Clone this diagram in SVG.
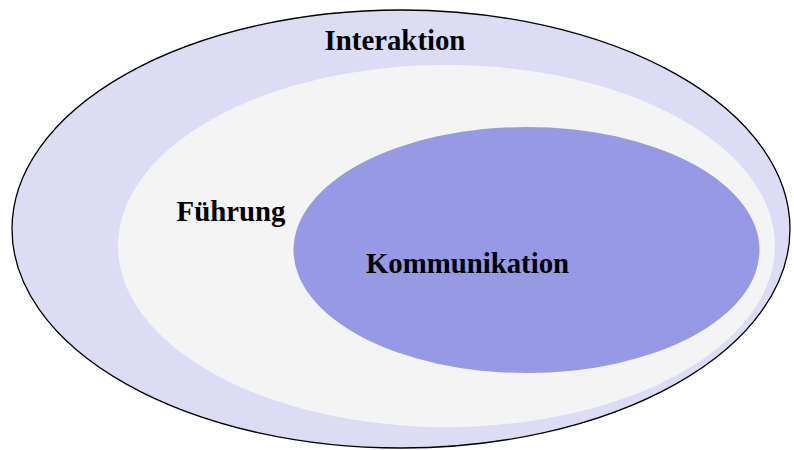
<svg xmlns="http://www.w3.org/2000/svg" width="794" height="450" viewBox="0 0 794 450">
  <style>
    .label { font-family: "Liberation Serif", "Times New Roman", serif; font-weight: bold; font-size: 28.8px; fill: #000000; }
  </style>
  <rect width="794" height="450" fill="#ffffff"/>
  <g id="interaktion">
    <ellipse cx="401" cy="229" rx="389" ry="219" fill="#dcdcf5" stroke="#000000" stroke-width="1.3"/>
    <text class="label" x="395" y="50" text-anchor="middle">Interaktion</text>
  </g>
  <g id="fuehrung">
    <ellipse cx="446.5" cy="246" rx="328.5" ry="181" fill="#f4f4f4"/>
    <text class="label" x="231" y="221" text-anchor="middle">Führung</text>
  </g>
  <g id="kommunikation">
    <ellipse cx="526.5" cy="250" rx="233" ry="123" fill="#9899e5"/>
    <text class="label" x="467.5" y="273" text-anchor="middle">Kommunikation</text>
  </g>
</svg>
